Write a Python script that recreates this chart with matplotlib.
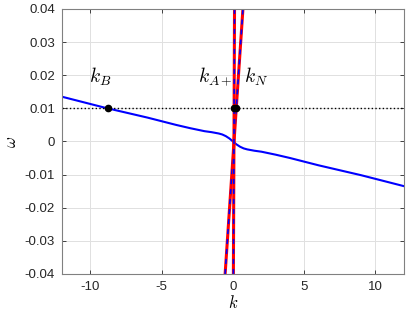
import numpy as np
import matplotlib
matplotlib.use("Agg")
import matplotlib.pyplot as plt

plt.rcParams['mathtext.fontset'] = 'cm'
plt.rcParams['axes.unicode_minus'] = False
plt.rcParams['font.family'] = 'Liberation Sans'

## dispersion curve (blue)
k_curve = [-12, -9, -6, -4, -3, -2, -1.5, -1, -0.75, -0.5, -0.25, 0,
           0.25, 0.5, 0.75, 1, 1.5, 2, 3, 4, 6, 9, 12]
w_curve = [0.0135, 0.0102, 0.0072, 0.0050, 0.0040, 0.0031, 0.0028, 0.0024, 0.0021, 0.0016, 0.0009, 0.0,
           -0.0009, -0.0016, -0.0021, -0.0024, -0.0028, -0.0031, -0.0040, -0.0050, -0.0072, -0.0102, -0.0135]

## two steep branches (end points)
k_steep1 = [-0.55, 0.70]
w_steep1 = [-0.04, 0.04]
k_steep2 = [0.03, 0.11]
w_steep2 = [-0.04, 0.04]

## frequency line and intersection points
w0 = 0.01
k_pts = [-8.8, 0.09, 0.24]
w_pts = [0.01, 0.01, 0.01]

labels = [r"$k_B$", r"$k_{A+}$", r"$k_N$"]
label_k = [-9.3, -1.25, 1.65]
label_w = [0.0195, 0.0195, 0.0195]

xticks = [-10, -5, 0, 5, 10]
yticks = [-0.04, -0.03, -0.02, -0.01, 0, 0.01, 0.02, 0.03, 0.04]
yticklabels = ["-0.04", "-0.03", "-0.02", "-0.01", "0", "0.01", "0.02", "0.03", "0.04"]

fig = plt.figure(figsize=(4.16, 3.2), dpi=100)
ax = fig.add_axes([0.149, 0.144, 0.822, 0.828])

ax.plot(k_curve, w_curve, color="blue", lw=1.5)
for ks, ws in [(k_steep1, w_steep1), (k_steep2, w_steep2)]:
    ax.plot(ks, ws, color="red", lw=2.2)
    ax.plot(ks, ws, color="blue", lw=1.2, ls=(0, (3, 3)))

ax.axhline(w0, color="black", lw=1.0, ls=":")
ax.plot(k_pts, w_pts, "o", color="black", ms=4.5, mfc="black", mec="black")

for lab, kk, ww in zip(labels, label_k, label_w):
    ax.text(kk, ww, lab, fontsize=14, ha="center", va="center")

ax.set_xlim(-12, 12)
ax.set_ylim(-0.04, 0.04)
ax.set_xticks(xticks)
ax.set_yticks(yticks)
ax.set_yticklabels(yticklabels)
ax.grid(True, color="0.88", lw=0.7)
ax.set_axisbelow(True)
ax.tick_params(direction="in", top=True, right=True, length=3, width=0.6,
               colors="0.15", labelsize=9.5, pad=5)
for sp in ax.spines.values():
    sp.set_color("0.5")
    sp.set_linewidth(0.8)

ax.set_xlabel(r"$k$", fontsize=12, labelpad=1)
ax.set_ylabel(r"$\omega$", fontsize=12, labelpad=4)

fig.savefig("out.png", dpi=100)
